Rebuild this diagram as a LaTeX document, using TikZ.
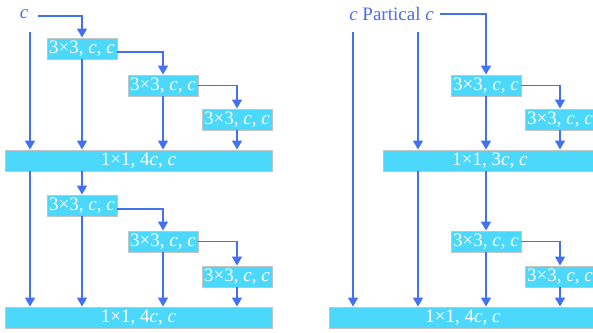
\documentclass[tikz,border=0pt]{standalone}
\usepackage{fontspec}
\setmainfont{Liberation Serif}
\usetikzlibrary{arrows.meta}
\definecolor{boxfill}{HTML}{4CD8FA}
\definecolor{boxline}{HTML}{C4C4C4}
\definecolor{arrblue}{HTML}{4271F2}
\definecolor{txtblue}{HTML}{4A6FE8}
\tikzset{
  blk/.style={draw=boxline, line width=0.9pt, fill=boxfill, text=white, inner sep=0pt,
    minimum height=21pt, minimum width=70pt, font=\fontsize{19}{19}\selectfont},
  lbl/.style={text=txtblue, inner sep=0pt, font=\fontsize{19}{19}\selectfont},
  arr/.style={draw=arrblue, line width=1.3pt, -{Triangle[width=10pt,length=9pt]}},
  ln/.style={draw=arrblue, line width=1.3pt}
}
\newcommand{\tb}{3×3, \textit{c}, \textit{c}}
\begin{document}
\begin{tikzpicture}[x=1pt,y=-1pt]
\useasboundingbox (0,0) rectangle (593,332);
\clip (0,0) rectangle (593,332);
% ---------- left ----------
\node[lbl] (c) at (24,14) {\textit{c}};
\coordinate (cL) at (30,32);
\coordinate (cR) at (38,16);
\node[blk] (B1) at (82,48.5) {\tb};
\node[blk] (B2) at (163,85.5) {\tb};
\node[blk] (B3) at (237,119.5) {\tb};
\node[blk, minimum width=267pt] (M1) at (138.5,160.5) {1×1, 4\textit{c}, \textit{c}};
\node[blk] (B4) at (82,205.5) {\tb};
\node[blk] (B5) at (163,241.5) {\tb};
\node[blk] (B6) at (237,276.5) {\tb};
\node[blk, minimum width=267pt] (M2) at (138.5,317.5) {1×1, 4\textit{c}, \textit{c}};
\draw[arr] (cR) -| (B1.north);
\draw[arr] (cL) -- (cL |- M1.north);
\draw[arr] (B1.south) -- (B1.south |- M1.north);
\draw[arr] ([yshift=-3.5pt]B1.east) -| (B2.north);
\draw[arr] (B2.south) -- (B2.south |- M1.north);
\draw[arr] (B2.east) -| (B3.north);
\draw[arr] (B3.south) -- (B3.south |- M1.north);
\draw[arr] (cL |- M1.south) -- (cL |- M2.north);
\draw[arr] (B4 |- M1.south) -- (B4.north);
\draw[arr] (B4.south) -- (B4.south |- M2.north);
\draw[arr] ([yshift=-3.5pt]B4.east) -| (B5.north);
\draw[arr] (B5.south) -- (B5.south |- M2.north);
\draw[arr] (B5.east) -| (B6.north);
\draw[arr] (B6.south) -- (B6.south |- M2.north);
% ---------- right ----------
\node[lbl] (pc) at (391.5,14) {\textit{c} Partical \textit{c}};
\coordinate (pA) at (353,32);
\coordinate (pB) at (418,32);
\coordinate (pR) at (440,14);
\node[blk] (R1) at (486,85.5) {\tb};
\node[blk] (R2) at (560,119.5) {\tb};
\node[blk, minimum width=214pt] (N1) at (490,160.5) {1×1, 3\textit{c}, \textit{c}};
\node[blk] (R3) at (486,241.5) {\tb};
\node[blk] (R4) at (560,276.5) {\tb};
\node[blk, minimum width=268pt] (N2) at (463,317.5) {1×1, 4\textit{c}, \textit{c}};
\draw[arr] (pR) -| (R1.north);
\draw[arr] (pA) -- (pA |- N2.north);
\draw[arr] (pB) -- (pB |- N1.north);
\draw[arr] (R1.south) -- (R1.south |- N1.north);
\draw[arr] (R1.east) -| (R2.north);
\draw[arr] (R2.south) -- (R2.south |- N1.north);
\draw[arr] (R3 |- N1.south) -- (R3.north);
\draw[arr] (pB |- N1.south) -- (pB |- N2.north);
\draw[arr] (R3.south) -- (R3.south |- N2.north);
\draw[arr] (R3.east) -| (R4.north);
\draw[arr] (R4.south) -- (R4.south |- N2.north);
\end{tikzpicture}
\end{document}
